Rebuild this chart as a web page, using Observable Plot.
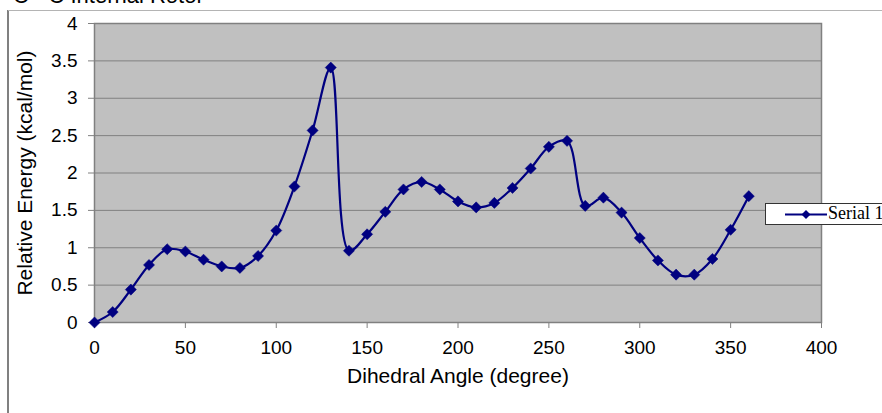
<!DOCTYPE html>
<html>
<head>
<meta charset="utf-8">
<script src="https://cdn.jsdelivr.net/npm/d3@7"></script>
<script src="https://cdn.jsdelivr.net/npm/@observablehq/plot@0.6"></script>
<style>
  html, body { margin: 0; padding: 0; background: #fff; }
  #wrap { position: relative; width: 882px; height: 413px; overflow: hidden; font-family: "Liberation Sans", Arial, sans-serif; }
  #chart { position: absolute; left: 0; top: 0; }
  #title { position: absolute; left: 13px; top: -15px; font-size: 22px; line-height: 22px; white-space: nowrap; color: #000; }
  #frameLeft { position: absolute; left: 7px; top: 10px; width: 2px; height: 420px; background: #808080; }
  #frameTop { position: absolute; left: 8px; top: 10px; width: 880px; height: 1px; background: #b4b4b4; }
  #legend { position: absolute; left: 765px; top: 203px; width: 130px; height: 22px; background: #fff; border: 1px solid #333; box-sizing: border-box; }
  #legend svg { position: absolute; left: 0; top: 0; }
  #legendText { position: absolute; left: 62px; top: 0px; font-family: "Liberation Serif", "Times New Roman", serif; font-size: 18px; line-height: 18px; white-space: nowrap; color: #000; }
</style>
</head>
<body>
<div id="wrap">
  <div id="frameLeft"></div>
  <div id="frameTop"></div>
  <div id="title">C - C Internal Rotor</div>
  <div id="chart"></div>
  <div id="legend"></div>
</div>
<script>
// Data
const angles = [0,10,20,30,40,50,60,70,80,90,100,110,120,130,140,150,160,170,180,190,200,210,220,230,240,250,260,270,280,290,300,310,320,330,340,350,360];
const energies = [0,0.14,0.44,0.77,0.98,0.95,0.84,0.75,0.73,0.89,1.23,1.82,2.57,3.41,0.96,1.18,1.48,1.78,1.88,1.78,1.62,1.54,1.60,1.80,2.06,2.35,2.43,1.56,1.67,1.47,1.13,0.83,0.64,0.64,0.85,1.24,1.69];
const seriesName = "Serial 1";
const xTicks = [0,50,100,150,200,250,300,350,400];
const yTicks = [0,0.5,1,1.5,2,2.5,3,3.5,4];
const xLabel = "Dihedral Angle (degree)";
const yLabel = "Relative Energy (kcal/mol)";

const data = angles.map((a, i) => ({angle: a, energy: energies[i]}));
const navy = "#000080";

const chart = Plot.plot({
  width: 882,
  height: 413,
  marginTop: 23,
  marginRight: 61,
  marginBottom: 91,
  marginLeft: 94,
  style: {fontFamily: '"Liberation Sans", Arial, sans-serif', fontSize: "19px", background: "transparent", overflow: "visible"},
  x: {domain: [0, 400]},
  y: {domain: [0, 4]},
  marks: [
    Plot.frame({fill: "#c0c0c0", stroke: null}),
    Plot.ruleY(yTicks.filter(d => d > 0 && d < 4), {stroke: "#808080", strokeWidth: 1}),
    Plot.frame({stroke: "#808080", strokeWidth: 1.5}),
    Plot.axisX({ticks: xTicks, tickSize: 6, tickPadding: 12, stroke: "#808080", fill: "#000", tickFormat: d => String(d), label: null}),
    Plot.axisY({ticks: yTicks, tickSize: 6, tickPadding: 11, stroke: "#808080", fill: "#000", tickFormat: d => String(d), label: null}),
    Plot.line(data, {x: "angle", y: "energy", curve: "catmull-rom", stroke: navy, strokeWidth: 2.2}),
    Plot.dot(data, {x: "angle", y: "energy", symbol: "diamond2", r: 5, fill: navy, stroke: navy, strokeWidth: 0.5}),
    Plot.text([xLabel], {frameAnchor: "bottom", dy: 54, lineAnchor: "middle", textAnchor: "middle", fontSize: 21, fill: "#000"}),
    Plot.text([yLabel], {frameAnchor: "left", dx: -69, rotate: -90, lineAnchor: "middle", textAnchor: "middle", fontSize: 21, fill: "#000"})
  ]
});
document.getElementById("chart").appendChild(chart);

// Legend
const legend = document.getElementById("legend");
legend.innerHTML =
  `<svg width="62" height="22"><line x1="19" y1="10.5" x2="61" y2="10.5" stroke="${navy}" stroke-width="2"/>` +
  `<polygon points="40,6 44.5,10.5 40,15 35.5,10.5" fill="${navy}"/></svg>` +
  `<div id="legendText"></div>`;
document.getElementById("legendText").textContent = seriesName;
</script>
</body>
</html>
